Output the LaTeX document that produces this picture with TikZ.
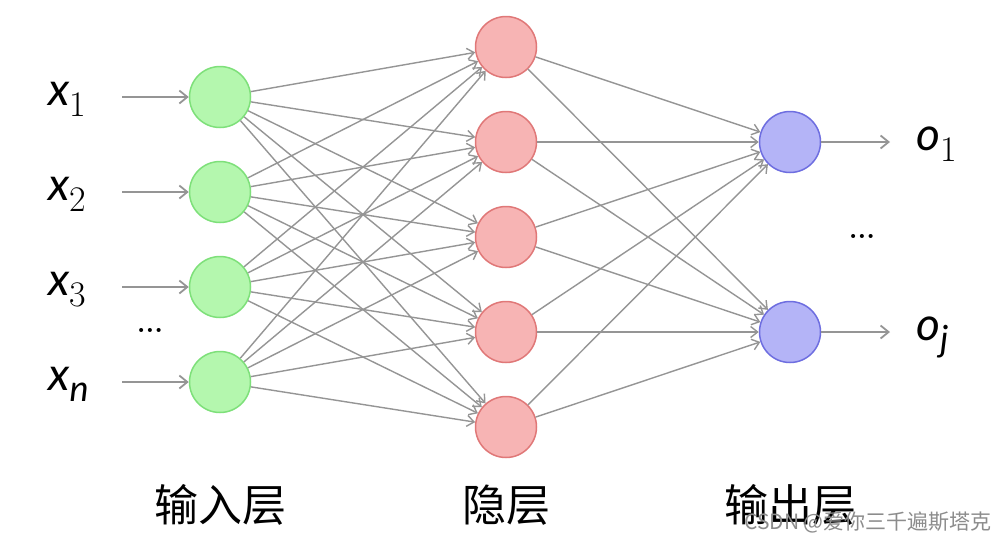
\documentclass[tikz,border=0pt]{standalone}
\usepackage{fontspec}
\newfontfamily\cjk{Noto Sans CJK SC}
\newfontfamily\labfont{Lato}
\usetikzlibrary{arrows.meta}
\definecolor{gfill}{HTML}{B4F7AE}
\definecolor{gdraw}{HTML}{7EE07A}
\definecolor{rfill}{HTML}{F7B4B4}
\definecolor{rdraw}{HTML}{E07878}
\definecolor{bfill}{HTML}{B4B4F7}
\definecolor{bdraw}{HTML}{6E6EE0}
\definecolor{edgecol}{HTML}{959595}
\newcommand{\varlab}[2]{{\labfont\itshape #1}\raisebox{-0.25em}{\fontsize{36}{36}\selectfont #2}}
\tikzset{
  neuron/.style={circle, minimum size=61pt, inner sep=0pt, line width=1.5pt},
  inneuron/.style={neuron, fill=gfill, draw=gdraw},
  hidneuron/.style={neuron, fill=rfill, draw=rdraw},
  outneuron/.style={neuron, fill=bfill, draw=bdraw},
  conn/.style={draw=edgecol, line width=1.4pt, -{Straight Barb[length=7pt,width=11pt,line width=1.4pt]}},
  io/.style={draw=edgecol, line width=1.8pt, -{Straight Barb[length=8pt,width=13pt,line width=1.8pt]}},
  lab/.style={font=\fontsize{46}{50}\selectfont, inner sep=0pt},
  layerlab/.style={font=\cjk\fontsize{44}{48}\selectfont, inner sep=0pt},
  dots/.style={font=\bfseries\fontsize{28}{28}\selectfont, inner sep=0pt}
}
\begin{document}
\begin{tikzpicture}[x=1pt,y=-1pt]
\useasboundingbox[fill=white] (0,0) rectangle (991,542);
% input layer
\foreach \i/\y in {1/97,2/192,3/287,4/382} {
  \node[inneuron] (i\i) at (220,\y) {};
}
\foreach \i/\y in {1/47,2/142,3/237,4/332,5/427} {
  \node[hidneuron] (h\i) at (506,\y) {};
}
\node[outneuron] (o1) at (790,142) {};
\node[outneuron] (o2) at (790,332) {};
% edges
\foreach \a in {1,2,3,4} {
  \foreach \b in {1,2,3,4,5} {
    \draw[conn] (i\a) -- (h\b);
  }
}
\foreach \b in {1,2,3,4,5} {
  \foreach \c in {1,2} {
    \draw[conn] (h\b) -- (o\c);
  }
}
% input labels
\node[lab, anchor=base west] (x1) at (48,105) {\varlab{x}{1}};
\node[lab, anchor=base west] (x2) at (48,200) {\varlab{x}{2}};
\node[lab, anchor=base west] (x3) at (48,295) {\varlab{x}{3}};
\node[lab, anchor=base west] (xn) at (48,390) {\varlab{x}{\labfont\itshape n}};
\node[dots] (idots) at (150,330) {...};
\foreach \n/\i in {x1/1,x2/2,x3/3,xn/4} {
  \coordinate (s\i) at (122,0 |- i\i);
  \draw[io] (s\i) -- (i\i);
}
% output labels
\node[lab, anchor=base west] (y1) at (916,150) {\varlab{o}{1}};
\node[lab, anchor=base west] (y2) at (916,340) {\varlab{o}{\labfont\itshape j}};
\node[dots] (odots) at (862,236) {...};
\coordinate (e1) at (890,142);
\coordinate (e2) at (890,332);
\draw[io] (o1) -- (e1);
\draw[io] (o2) -- (e2);
% layer labels
\node[layerlab] (l1) at (220,505) {输入层};
\node[layerlab] (l2) at (506,505) {隐层};
\node[layerlab] (l3) at (790,505) {输出层};
\node[font=\cjk\fontsize{21}{24}\selectfont, text=black!45, inner sep=0pt, anchor=west] (wm) at (744,522) {CSDN @爱你三千遍斯塔克};
\end{tikzpicture}
\end{document}
